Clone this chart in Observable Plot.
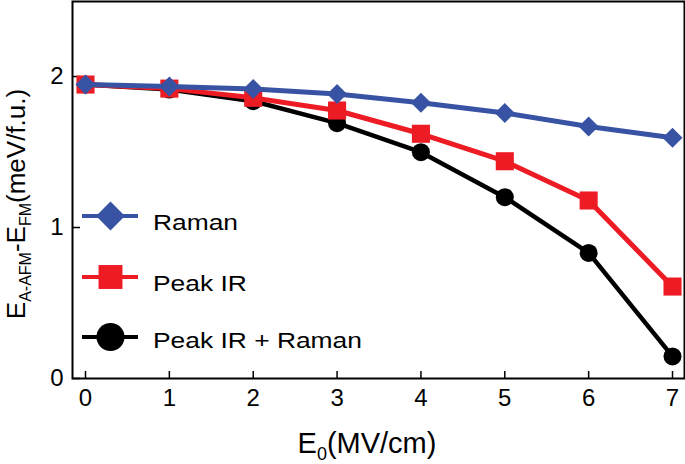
<!DOCTYPE html>
<html><head><meta charset="utf-8">
<script src="https://cdn.jsdelivr.net/npm/d3@7"></script>
<script src="https://cdn.jsdelivr.net/npm/@observablehq/plot@0.6"></script>
<style>body{margin:0;background:#fff} svg{display:block}</style>
</head><body><div id="chart"></div>
<script>
const fields = [0, 1, 2, 3, 4, 5, 6, 7];
const raman = [1.947, 1.934, 1.918, 1.885, 1.826, 1.758, 1.669, 1.594];
const peakIR = [1.947, 1.920, 1.859, 1.775, 1.621, 1.439, 1.179, 0.609];
const peakIRRaman = [1.947, 1.914, 1.837, 1.691, 1.499, 1.201, 0.832, 0.146];
const seriesNames = ["Raman", "Peak IR", "Peak IR + Raman"];
const seriesColors = ["#3953a4", "#ed1c24", "#000000"];
const seriesSymbols = ["diamond2", "square", "circle"];
const xTicks = [0, 1, 2, 3, 4, 5, 6, 7];
const yTicks = [0, 1, 2];

const FONT = "'Liberation Sans', Arial, Helvetica, sans-serif";
const xDomain = [-0.155, 7.143];
const yDomain = [0, 2.497];

const seriesValues = [raman, peakIR, peakIRRaman];
const seriesR = [9, 10.2, 9];
const seriesSW = [5, 5, 4.5];
const series = seriesNames.map((name, i) => ({
  name, color: seriesColors[i], symbol: seriesSymbols[i], r: seriesR[i], sw: seriesSW[i],
  rows: fields.map((f, j) => ({x: f, y: seriesValues[i][j]}))
}));

const seriesMarks = [];
for (const s of [...series].reverse()) {
  seriesMarks.push(Plot.line(s.rows, {x: "x", y: "y", stroke: s.color, strokeWidth: s.sw}));
  seriesMarks.push(Plot.dot(s.rows, {x: "x", y: "y", symbol: s.symbol, r: s.r, fill: s.color, stroke: "none"}));
}

const plot = Plot.plot({
  width: 685, height: 464,
  marginLeft: 72, marginRight: 1, marginTop: 1, marginBottom: 86,
  style: {fontFamily: FONT, fontSize: "23px", background: "white", color: "black"},
  x: {domain: xDomain},
  y: {domain: yDomain},
  marks: [
    Plot.axisX(xTicks, {tickSize: 0, tickPadding: 10, fontSize: 24, tickFormat: d3.format("d"), label: null}),
    Plot.axisY(yTicks, {tickSize: 0, tickPadding: 9, fontSize: 24, tickFormat: d3.format("d"), label: null}),
    Plot.ruleX(xTicks, {x: d => d, y1: 0, y2: 7 / 151, stroke: "black", strokeWidth: 1.5}),
    Plot.ruleY(yTicks, {y: d => d, x1: xDomain[0], x2: xDomain[0] + 8 / 83.86, stroke: "black", strokeWidth: 1.5}),
    ...seriesMarks,
    Plot.frame({stroke: "black", strokeWidth: 2})
  ]
});

const svg = d3.select(plot);
svg.selectAll("g").filter(function() { return this.querySelector("text"); }).style("font-size", "24px");
svg.selectAll("text").style("font-size", "24px").attr("font-size", 24);
// Y axis label
const yl = svg.append("text")
  .attr("transform", "translate(25,204) rotate(-90)")
  .attr("text-anchor", "middle").style("font-size", "26px").attr("font-family", FONT).attr("fill", "black");
yl.append("tspan").text("E");
yl.append("tspan").style("font-size", "16px").attr("dy", 6).text("A-AFM");
yl.append("tspan").attr("dy", -6).text("-E");
yl.append("tspan").style("font-size", "16px").attr("dy", 6).text("FM");
yl.append("tspan").attr("dy", -6).text("(meV/f.u.)");
// X axis label
const xl = svg.append("text")
  .attr("x", 367).attr("y", 453)
  .attr("text-anchor", "middle").style("font-size", "29px").attr("font-family", FONT).attr("fill", "black");
xl.append("tspan").text("E");
xl.append("tspan").style("font-size", "18px").attr("dy", 7).text("0");
xl.append("tspan").attr("dy", -7).text("(MV/cm)");

// Legend
const legendY = [216, 277, 337];
const legendBase = [230, 291, 348];
const legendR = [13, 13.5, 14];
const symMap = {diamond2: d3.symbolDiamond2, square: d3.symbolSquare, circle: d3.symbolCircle};
series.forEach((s, i) => {
  const g = svg.append("g");
  g.append("line").attr("x1", 82).attr("x2", 138).attr("y1", legendY[i]).attr("y2", legendY[i])
    .attr("stroke", s.color).attr("stroke-width", 4);
  g.append("path").attr("d", d3.symbol(symMap[s.symbol], legendR[i] * legendR[i] * Math.PI)())
    .attr("transform", `translate(110.5,${legendY[i]})`).attr("fill", s.color);
  g.append("text").attr("transform", `translate(153,${legendBase[i]}) scale(1.2,1)`)
    .style("font-size", "22px")
    .attr("text-anchor", "start")
    .attr("font-family", FONT).attr("fill", "black").text(s.name);
});

document.getElementById("chart").appendChild(plot);
</script>
</body></html>
